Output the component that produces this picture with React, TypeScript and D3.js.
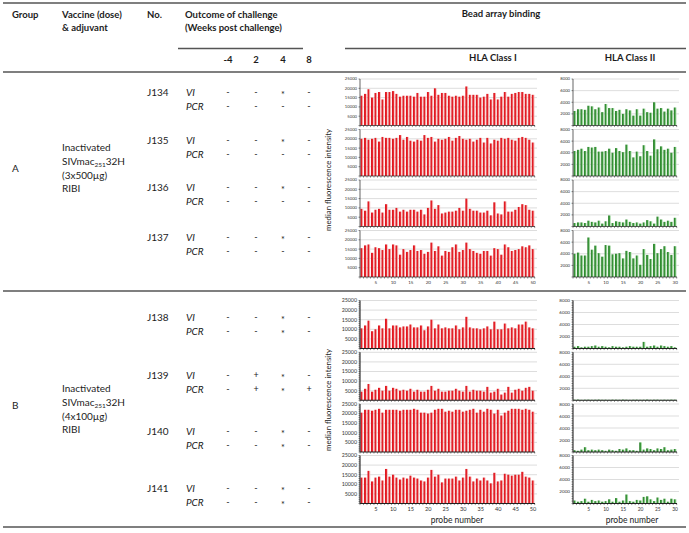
import React from "react";
import * as d3 from "d3";

// ---------- table data ----------
const weeks = ["-4", "2", "4", "8"];
const groupA = ["J134", "J135", "J136", "J137"];
const groupB = ["J138", "J139", "J140", "J141"];
const viA = [["-", "-", "*", "-"], ["-", "-", "*", "-"], ["-", "-", "*", "-"], ["-", "-", "*", "-"]];
const pcrA = [["-", "-", "-", "-"], ["-", "-", "-", "-"], ["-", "-", "-", "-"], ["-", "-", "-", "-"]];
const viB = [["-", "-", "*", "-"], ["-", "+", "*", "-"], ["-", "-", "*", "-"], ["-", "-", "*", "-"]];
const pcrB = [["-", "-", "*", "-"], ["-", "+", "*", "+"], ["-", "-", "*", "-"], ["-", "-", "*", "-"]];

// ---------- HLA Class I (50 probes) ----------
const J134_I = [16000, 17000, 19500, 15000, 17500, 18000, 14000, 18000, 18000, 18500, 17000, 15500, 16000, 16000, 16000, 15500, 17500, 15500, 15500, 18000, 16000, 20000, 16500, 17500, 17500, 16000, 15500, 16000, 15500, 16000, 21000, 16500, 16500, 16500, 15000, 15500, 17000, 14000, 17500, 14000, 15500, 18000, 15500, 17000, 17500, 18000, 18000, 17000, 17000, 16500];
const J135_I = [20000, 20500, 19500, 20000, 20500, 18500, 21000, 20500, 20500, 20000, 20500, 22000, 19500, 21000, 19000, 18500, 19500, 19000, 22000, 20500, 21000, 18500, 20000, 19500, 20000, 21000, 19000, 20500, 21500, 20000, 19500, 20000, 18500, 19500, 20500, 18000, 20500, 17500, 19500, 19000, 20500, 20000, 20500, 19500, 19000, 20500, 21000, 20500, 19500, 18000];
const J136_I = [9500, 8500, 13500, 7500, 9000, 9500, 7500, 12000, 9000, 9000, 10000, 8000, 9000, 8000, 9000, 9000, 8000, 9000, 6500, 10000, 14000, 9500, 11500, 7000, 7500, 8000, 8000, 8500, 10000, 8500, 15000, 9500, 8500, 8500, 7500, 7500, 8500, 6000, 13000, 7000, 6500, 13500, 8000, 8000, 9000, 10500, 12000, 11500, 9000, 8500];
const J137_I = [15500, 17000, 17500, 13000, 16000, 15500, 14500, 17500, 15000, 17500, 17000, 12000, 15000, 13500, 14500, 17000, 14000, 14500, 12500, 13500, 18500, 14000, 16500, 11500, 14000, 13500, 16000, 17500, 13500, 14500, 18500, 15000, 14000, 13000, 12500, 14000, 14000, 11500, 15500, 15000, 12000, 17500, 16000, 14000, 14500, 15000, 16500, 16000, 17000, 15000];
const J138_I = [10500, 12000, 14500, 9000, 10000, 12000, 10500, 15500, 10500, 12000, 12000, 11000, 11500, 11500, 12500, 11000, 11000, 12000, 9500, 11500, 15000, 10500, 12500, 10500, 11000, 10500, 10500, 12000, 10000, 11000, 16500, 11000, 10500, 10500, 10000, 10500, 11500, 10000, 14000, 10000, 10000, 13000, 10500, 11000, 10500, 12500, 12500, 14000, 11000, 10500];
const J139_I = [4500, 6000, 8500, 4500, 5500, 6500, 5000, 7500, 5000, 6500, 6000, 5000, 5500, 5000, 6000, 4500, 5500, 4500, 4500, 5500, 7500, 5000, 6000, 4500, 4500, 5000, 5000, 6000, 5000, 4500, 7500, 4500, 5500, 5000, 5000, 4500, 7000, 4000, 4500, 6000, 3000, 4000, 7000, 4000, 5500, 6000, 5000, 6500, 7000, 5000];
const J140_I = [20500, 22000, 22000, 21500, 22000, 22500, 20500, 22000, 22000, 22000, 22000, 21500, 22000, 22000, 22000, 22500, 22000, 20500, 20500, 20000, 20500, 22000, 22500, 22500, 21000, 21500, 21000, 22000, 22000, 21000, 21500, 22000, 22500, 20500, 22000, 21000, 22500, 22000, 20000, 22000, 19000, 20500, 21500, 22500, 22500, 22500, 22000, 22500, 22000, 21000];
const J141_I = [13500, 13500, 17000, 11500, 13500, 14000, 12000, 18000, 14000, 15000, 13500, 12500, 13500, 13000, 14500, 13500, 13000, 12000, 11500, 13500, 17500, 14000, 15000, 11000, 13000, 13000, 13000, 14000, 12000, 13500, 18000, 14000, 11500, 13000, 12000, 13500, 12000, 10500, 16000, 11500, 12000, 15500, 15000, 14500, 15000, 15000, 16500, 14000, 13500, 12000];

// ---------- HLA Class II (30 probes) ----------
const J134_II = [2500, 2800, 2800, 2700, 3400, 3300, 2800, 3100, 2300, 3700, 3000, 3000, 2500, 2700, 2000, 2800, 2600, 1700, 2800, 1700, 2900, 2300, 2200, 4000, 2900, 3000, 2400, 2900, 2600, 3100];
const J135_II = [4300, 4500, 4700, 4300, 5000, 4900, 5000, 4200, 4200, 4300, 4700, 4000, 4800, 4300, 4100, 5400, 4300, 3200, 4200, 3400, 5300, 4300, 3500, 6300, 4600, 5100, 4500, 4700, 4000, 5000];
const J136_II = [600, 700, 700, 600, 1000, 800, 700, 1000, 500, 900, 1900, 600, 900, 800, 700, 1200, 800, 600, 700, 500, 700, 1100, 900, 500, 1700, 1200, 800, 1000, 800, 1500];
const J137_II = [4000, 4200, 3700, 3700, 6800, 4700, 5400, 4100, 3500, 5500, 5400, 3900, 4000, 4100, 3200, 4500, 4300, 3200, 3700, 2100, 4800, 3800, 3100, 5700, 4100, 4800, 5300, 4300, 3800, 5300];
const J138_II = [300, 400, 200, 300, 300, 400, 500, 300, 400, 300, 200, 400, 300, 300, 200, 300, 400, 300, 300, 300, 1100, 300, 400, 500, 300, 500, 400, 300, 400, 200];
const J139_II = [100, 120, 80, 100, 110, 90, 100, 120, 90, 100, 80, 110, 100, 90, 120, 100, 80, 100, 110, 90, 100, 120, 90, 100, 110, 80, 100, 90, 110, 100];
const J140_II = [300, 200, 400, 800, 300, 400, 300, 400, 300, 200, 400, 300, 200, 500, 400, 600, 300, 300, 200, 1600, 400, 600, 500, 300, 600, 500, 800, 300, 400, 500];
const J141_II = [500, 300, 400, 800, 300, 600, 400, 500, 300, 400, 700, 300, 900, 300, 500, 1500, 400, 300, 600, 500, 1100, 1200, 700, 400, 1000, 600, 800, 300, 800, 700];

const classITicks = [5000, 10000, 15000, 20000, 25000];
const classIITicks = [2000, 4000, 6000, 8000];
const classIXTicks = [5, 10, 15, 20, 25, 30, 35, 40, 45, 50];
const classIIXTicks = [5, 10, 15, 20, 25, 30];

const classIA = [J134_I, J135_I, J136_I, J137_I];
const classIB = [J138_I, J139_I, J140_I, J141_I];
const classIIA = [J134_II, J135_II, J136_II, J137_II];
const classIIB = [J138_II, J139_II, J140_II, J141_II];

const FONT = "Lato, 'Open Sans', sans-serif";
const TXT = "#1c1c1c";

type PanelProps = {
  values: number[];
  x0: number;
  x1: number;
  top: number;
  h: number;
  yMax: number;
  yTicks: number[];
  xTicks: number[] | null;
  grad: string;
  labelSize: number;
  heavy: boolean;
  minorStep: number;
};

function Panel(p: PanelProps) {
  const idx = p.values.map((_, i) => i + 1);
  const x = d3.scaleBand<number>().domain(idx).range([p.x0, p.x1]).paddingInner(0.22).paddingOuter(0.15);
  const y = d3.scaleLinear().domain([0, p.yMax]).range([p.top + p.h, p.top]);
  const step = x.step();
  const minor = d3.range(0, p.yMax + 1, p.minorStep);
  const axisW = p.heavy ? 1.1 : 0.7;
  return (
    <g>
      {p.yTicks.map((t) => (
        <line key={"g" + t} x1={p.x0} x2={p.x1 + 2} y1={y(t)} y2={y(t)} stroke="#cfcfcf" strokeWidth={0.7} />
      ))}
      {p.values.map((v, i) => (
        <rect key={i} x={x(i + 1)} y={y(v)} width={x.bandwidth()} height={y(0) - y(v)} fill={`url(#${p.grad})`} />
      ))}
      <line x1={p.x0} x2={p.x0} y1={p.top} y2={p.top + p.h} stroke="#222" strokeWidth={axisW} />
      <line x1={p.x0} x2={p.x1} y1={y(0)} y2={y(0)} stroke="#222" strokeWidth={axisW} />
      {minor.map((t) => (
        <line key={"m" + t} x1={p.x0 - 1.5} x2={p.x0} y1={y(t)} y2={y(t)} stroke="#222" strokeWidth={0.5} />
      ))}
      {d3.range(0, idx.length + 1).map((k) => (
        <line key={"xt" + k} x1={p.x0 + k * step} x2={p.x0 + k * step} y1={y(0)} y2={y(0) + 1.6} stroke="#222" strokeWidth={0.5} />
      ))}
      {p.yTicks.map((t) => (
        <text key={"l" + t} x={p.x0 - 3} y={y(t)} dy="0.35em" textAnchor="end" fontSize={p.labelSize} fill="#333" fontFamily={FONT}>
          {t}
        </text>
      ))}
      {p.xTicks &&
        p.xTicks.map((t) => (
          <text key={"x" + t} x={(x(t) as number) + x.bandwidth() / 2} y={y(0) + 7} textAnchor="middle" fontSize={p.labelSize + 0.3} fill="#333" fontFamily={FONT}>
            {t}
          </text>
        ))}
    </g>
  );
}

function Mark({ s, x, y }: { s: string; x: number; y: number }) {
  return (
    <text x={x} y={s === "*" ? y + 2.5 : y} dy="0.35em" textAnchor="middle" fontSize={9}>{s}</text>
  );
}

function Outcome({ names, vi, pcr, rowY }: { names: string[]; vi: string[][]; pcr: string[][]; rowY: number[] }) {
  const colX = [228, 256, 283, 309];
  return (
    <g fontFamily={FONT} fill={TXT} fontSize={10}>
      {names.map((n, i) => (
        <g key={n}>
          <text x={147} y={rowY[i]} dy="0.35em">{n}</text>
          <text x={186} y={rowY[i]} dy="0.35em" fontStyle="italic">VI</text>
          <text x={186} y={rowY[i] + 14} dy="0.35em" fontStyle="italic">PCR</text>
          {vi[i].map((s, j) => (
            <Mark key={"v" + j} s={s} x={colX[j]} y={rowY[i]} />
          ))}
          {pcr[i].map((s, j) => (
            <Mark key={"p" + j} s={s} x={colX[j]} y={rowY[i] + 14} />
          ))}
        </g>
      ))}
    </g>
  );
}

function Vaccine({ y, dose }: { y: number; dose: string }) {
  return (
    <g fontFamily={FONT} fill={TXT} fontSize={10}>
      <text x={62} y={y} dy="0.35em">Inactivated</text>
      <text x={62} y={y + 14} dy="0.35em">
        SIVmac<tspan fontSize={6.5} dy="2">251</tspan><tspan dy="-2">32H</tspan>
      </text>
      <text x={62} y={y + 28} dy="0.35em">{dose}</text>
      <text x={62} y={y + 41} dy="0.35em">RIBI</text>
    </g>
  );
}

export default function App() {
  const W = 689, H = 533;
  const redX0 = 360, redX1 = 535;
  const grnX0 = 573, grnX1 = 677;
  const topsA = [79, 129.5, 180, 230.5];
  const topsB = [300.5, 352.3, 404, 455.5];
  return (
    <svg width={W} height={H} style={{ position: "absolute", left: 0, top: 0, background: "#fff" }}>
      <defs>
        <linearGradient id="redG" x1="0" x2="1" y1="0" y2="0">
          <stop offset="0" stopColor="#d9141c" />
          <stop offset="0.55" stopColor="#e8232b" />
          <stop offset="0.7" stopColor="#f29a9a" />
          <stop offset="1" stopColor="#f7c0c0" />
        </linearGradient>
        <linearGradient id="grnG" x1="0" x2="1" y1="0" y2="0">
          <stop offset="0" stopColor="#2a7d2a" />
          <stop offset="0.55" stopColor="#3d9a3d" />
          <stop offset="0.7" stopColor="#8fcf8f" />
          <stop offset="1" stopColor="#b5e0b5" />
        </linearGradient>
      </defs>
      <rect width={W} height={H} fill="#fff" />

      {/* table rules */}
      <g stroke="#555" strokeWidth={1.3}>
        <line x1={3} x2={686} y1={3} y2={3} />
        <line x1={178} x2={303} y1={48.5} y2={48.5} />
        <line x1={345} x2={686} y1={48.5} y2={48.5} />
        <line x1={3} x2={686} y1={72} y2={72} />
        <line x1={3} x2={686} y1={291} y2={291} />
        <line x1={3} x2={686} y1={527} y2={527} />
      </g>

      {/* headers */}
      <g fontFamily={FONT} fill={TXT} fontSize={9.5} fontWeight="bold">
        <text x={12} y={15} dy="0.35em">Group</text>
        <text x={62} y={15} dy="0.35em">Vaccine (dose)</text>
        <text x={62} y={28} dy="0.35em">&amp; adjuvant</text>
        <text x={147} y={15} dy="0.35em">No.</text>
        <text x={185} y={15} dy="0.35em">Outcome of challenge</text>
        <text x={185} y={28} dy="0.35em">(Weeks post challenge)</text>
        {weeks.map((w, i) => (
          <text key={w} x={[228, 256, 283, 309][i]} y={60} dy="0.35em" textAnchor="middle">{w}</text>
        ))}
        <text x={501} y={14} dy="0.35em" textAnchor="middle">Bead array binding</text>
        <text x={493} y={58} dy="0.35em" textAnchor="middle">HLA Class I</text>
        <text x={630} y={58} dy="0.35em" textAnchor="middle">HLA Class II</text>
      </g>

      {/* group labels */}
      <g fontFamily={FONT} fill={TXT} fontSize={10}>
        <text x={12} y={168} dy="0.35em">A</text>
        <text x={12} y={405} dy="0.35em">B</text>
      </g>
      <Vaccine y={147} dose="(3x500µg)" />
      <Vaccine y={388} dose="(4x100µg)" />

      <Outcome names={groupA} vi={viA} pcr={pcrA} rowY={[92, 140, 187, 237]} />
      <Outcome names={groupB} vi={viB} pcr={pcrB} rowY={[317, 375, 431, 488]} />

      {/* y axis titles */}
      <text transform="translate(331,180) rotate(-90)" textAnchor="middle" fontFamily={FONT} fontSize={7.8} fill={TXT}>
        median fluorescence intensity
      </text>
      <text transform="translate(331,400) rotate(-90)" textAnchor="middle" fontFamily={FONT} fontSize={7.8} fill={TXT}>
        median fluorescence intensity
      </text>

      {/* group A panels */}
      {classIA.map((vals, i) => (
        <Panel key={"ia" + i} values={vals} x0={redX0} x1={redX1} top={topsA[i]} h={46.5} yMax={25000} yTicks={classITicks}
          xTicks={i === 3 ? classIXTicks : null} grad="redG" labelSize={4.2} heavy={false} minorStep={5000} />
      ))}
      {classIIA.map((vals, i) => (
        <Panel key={"iia" + i} values={vals} x0={grnX0} x1={grnX1} top={topsA[i]} h={46.5} yMax={8000} yTicks={classIITicks}
          xTicks={i === 3 ? classIIXTicks : null} grad="grnG" labelSize={4.2} heavy={false} minorStep={2000} />
      ))}

      {/* group B panels */}
      {classIB.map((vals, i) => (
        <Panel key={"ib" + i} values={vals} x0={redX0} x1={redX1} top={topsB[i]} h={48} yMax={25000} yTicks={classITicks}
          xTicks={i === 3 ? classIXTicks : null} grad="redG" labelSize={5.3} heavy={true} minorStep={1000} />
      ))}
      {classIIB.map((vals, i) => (
        <Panel key={"iib" + i} values={vals} x0={grnX0} x1={grnX1} top={topsB[i]} h={48} yMax={8000} yTicks={classIITicks}
          xTicks={i === 3 ? classIIXTicks : null} grad="grnG" labelSize={4.6} heavy={true} minorStep={400} />
      ))}

      <text x={457} y={520} dy="0.35em" textAnchor="middle" fontFamily={FONT} fontSize={8.5} fill={TXT}>probe number</text>
      <text x={632} y={520} dy="0.35em" textAnchor="middle" fontFamily={FONT} fontSize={8.5} fill={TXT}>probe number</text>
    </svg>
  );
}
